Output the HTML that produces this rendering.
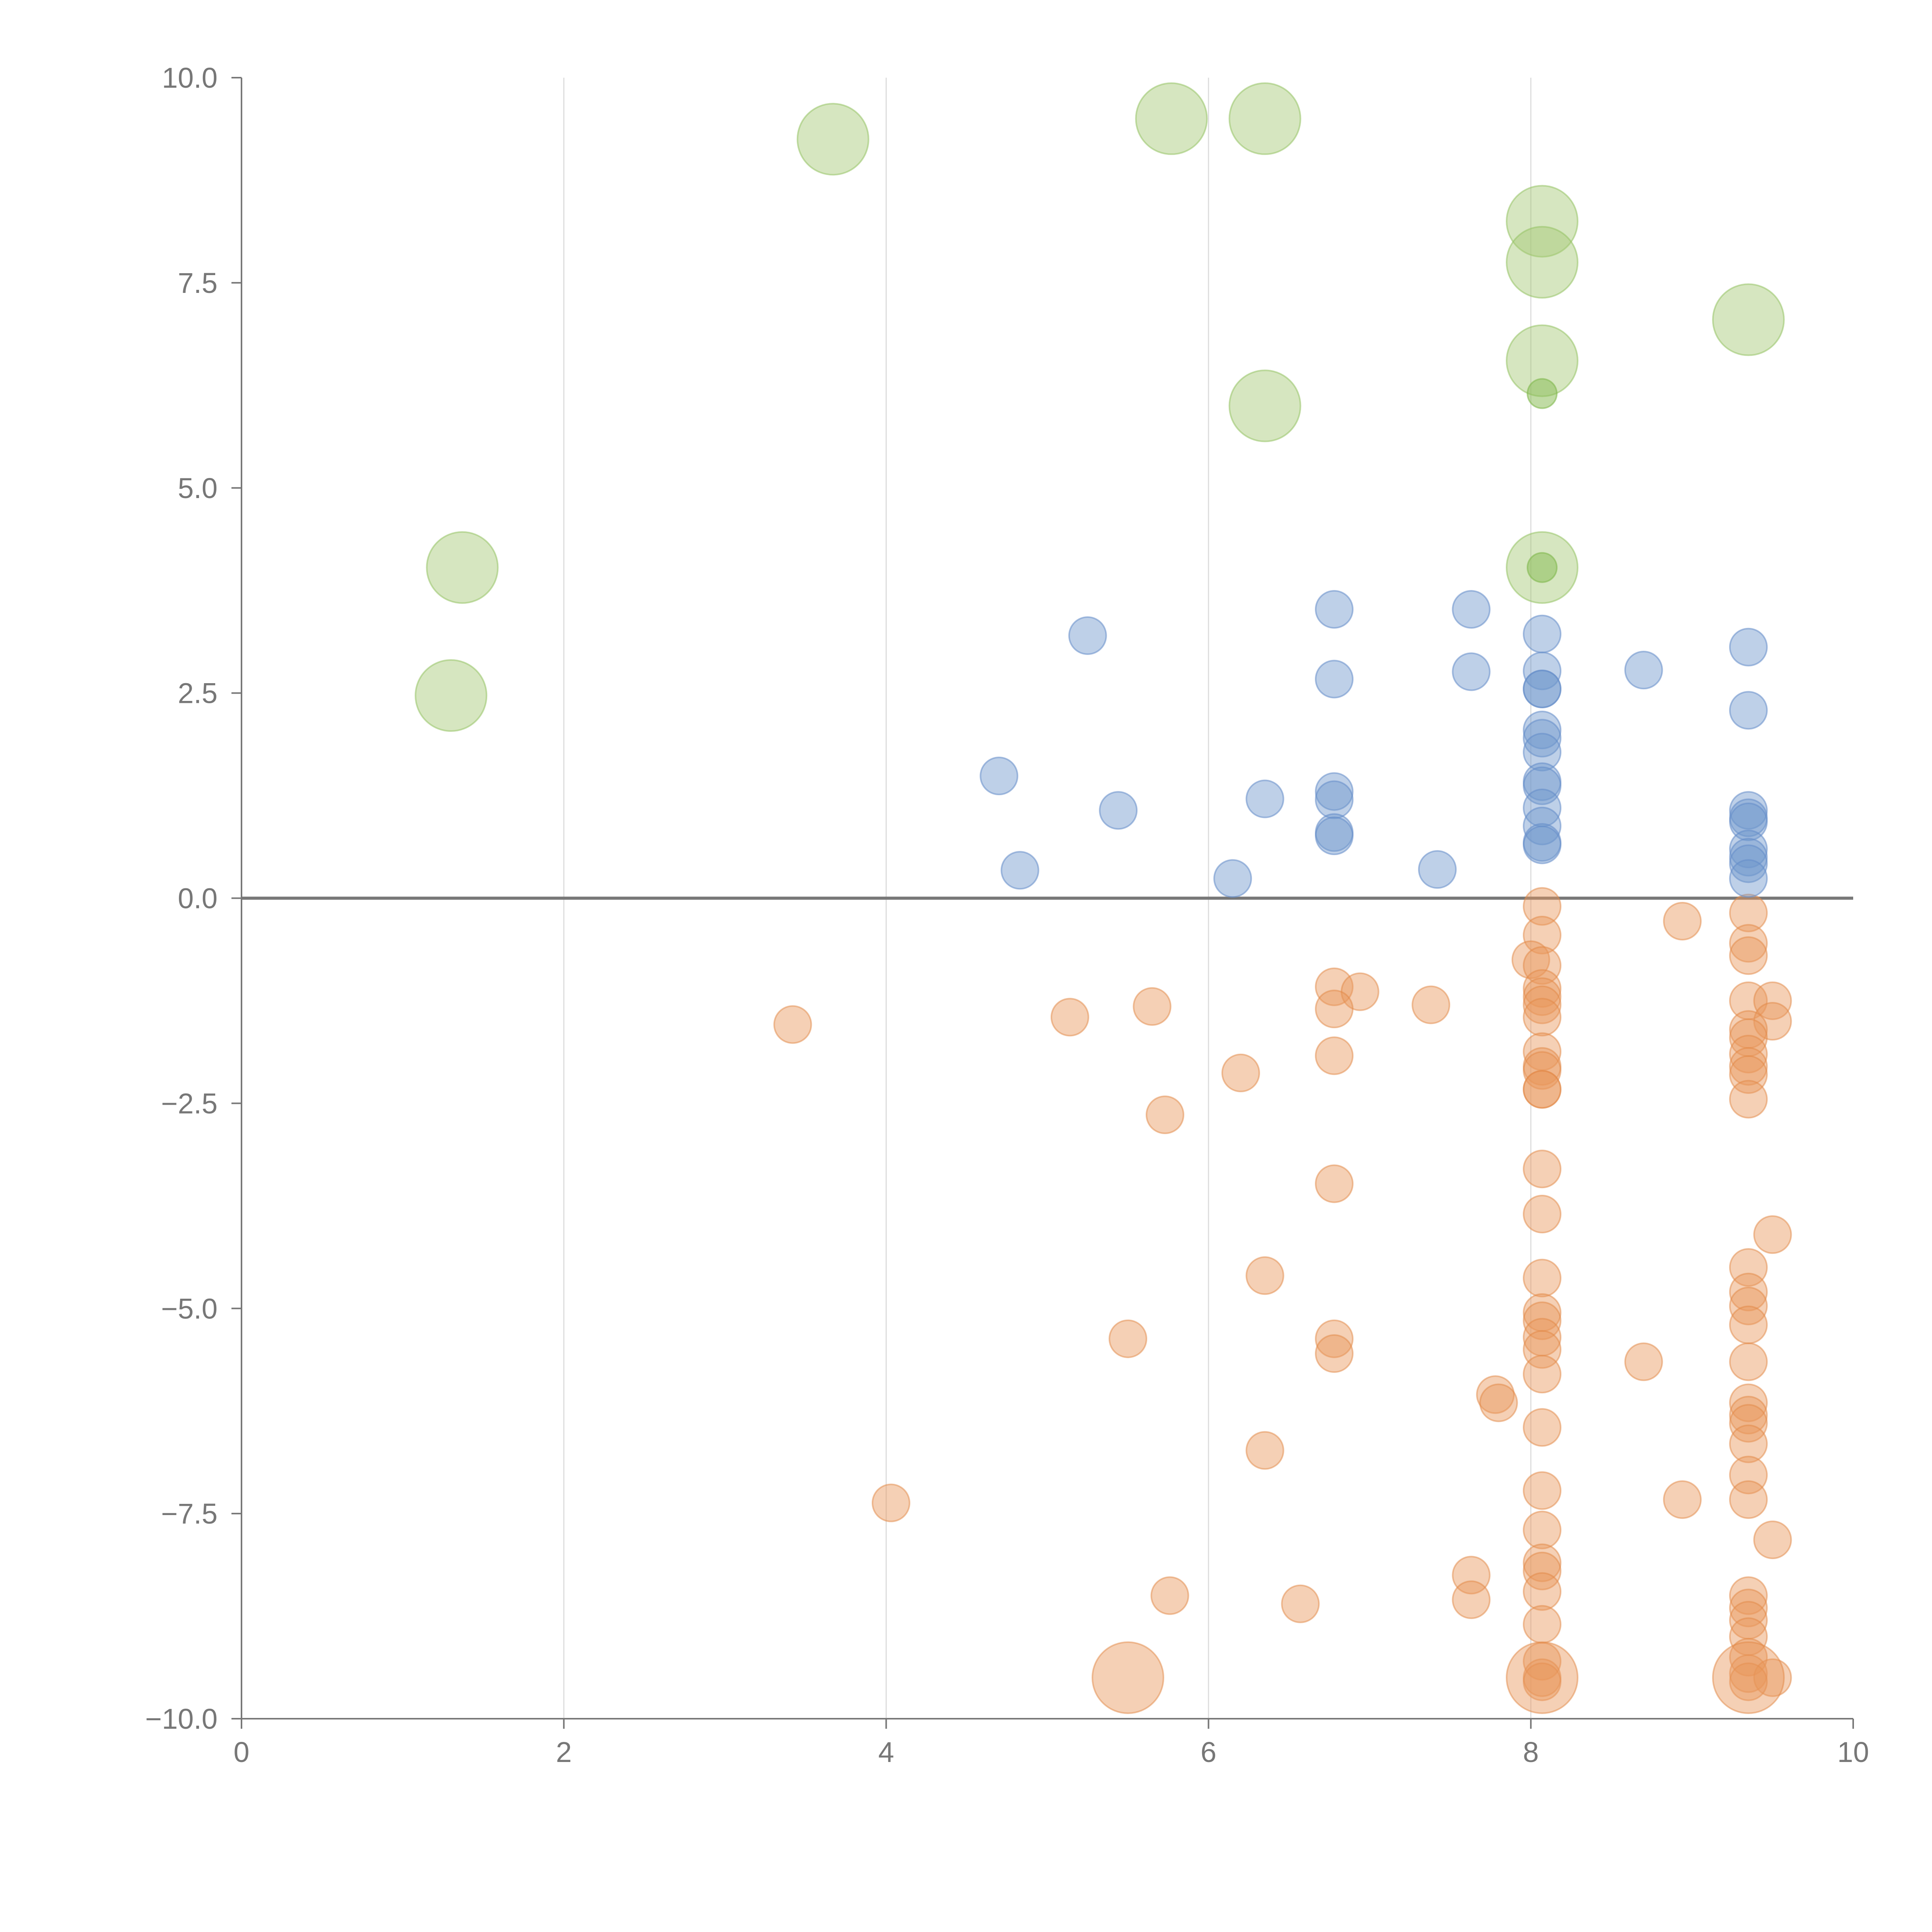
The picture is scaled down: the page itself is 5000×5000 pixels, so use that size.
<!DOCTYPE html>
<html><head><meta charset="utf-8"><style>
html,body{margin:0;padding:0;background:#fff;}
svg{display:block;font-family:"Liberation Sans",sans-serif;}
</style></head><body>
<svg id="chart" width="5000" height="5000" viewBox="0 0 5000 5000">
<g id="grid"></g>
<g id="axes"></g>
<g id="marks"></g>
</svg>
<script>
const xTicks=[0,2,4,6,8,10];
const yTicks=[-10,-7.5,-5,-2.5,0,2.5,5,7.5,10];
const xTickLabels=["0","2","4","6","8","10"];
const yTickLabels=["\u221210.0","\u22127.5","\u22125.0","\u22122.5","0.0","2.5","5.0","7.5","10.0"];
const greenX=[3.67,5.77,6.35,8.07,8.07,9.35,8.07,6.35,8.07,1.37,1.3];
const greenY=[9.25,9.5,9.5,8.25,7.75,7.05,6.55,6.0,4.03,4.03,2.47];
const greenSmallX=[8.07,8.07];
const greenSmallY=[6.15,4.03];
const blueX=[6.78,7.63,5.25,8.07,9.35,6.78,7.63,8.07,8.7,8.07,8.07,9.35,8.07,8.07,8.07,4.7,8.07,8.07,6.78,6.78,6.35,8.07,9.35,9.35,9.35,5.44,8.07,6.78,6.78,8.07,8.07,9.35,9.35,9.35,4.83,7.42,6.15,9.35];
const blueY=[3.52,3.52,3.2,3.22,3.06,2.67,2.76,2.77,2.78,2.55,2.55,2.29,2.05,1.95,1.78,1.49,1.42,1.37,1.3,1.2,1.21,1.1,1.07,0.98,0.93,1.07,0.88,0.8,0.76,0.68,0.65,0.6,0.5,0.42,0.34,0.35,0.24,0.24];
const orangeX=[8.07,9.35,8.94,8.07,9.35,9.35,8.0,8.07,6.78,6.94,8.07,8.07,8.07,9.35,9.5,7.38,5.65,6.78,8.07,5.14,9.5,3.42,9.35,9.35,8.07,9.35,6.78,9.35,8.07,8.07,6.2,9.35,8.07,8.07,9.35,5.73,8.07,6.78,8.07,9.5,9.35,6.35,8.07,9.35,9.35,8.07,8.07,9.35,8.07,5.5,6.78,8.07,6.78,9.35,8.7,8.07,7.78,7.8,9.35,9.35,9.35,8.07,9.35,6.35,9.35,8.07,8.94,9.35,4.03,8.07,9.5,8.07,8.07,7.63,8.07,5.76,9.35,7.63,6.57,9.35,9.35,8.07,9.35,9.35,8.07,9.35,8.07,9.5,9.35,8.07];
const orangeY=[-0.1,-0.18,-0.28,-0.45,-0.55,-0.7,-0.75,-0.82,-1.08,-1.14,-1.1,-1.2,-1.3,-1.25,-1.25,-1.3,-1.32,-1.35,-1.45,-1.45,-1.5,-1.54,-1.6,-1.7,-1.87,-1.9,-1.92,-2.05,-2.05,-2.1,-2.13,-2.15,-2.33,-2.33,-2.45,-2.64,-3.3,-3.48,-3.85,-4.1,-4.5,-4.6,-4.63,-4.8,-4.97,-5.05,-5.15,-5.2,-5.35,-5.37,-5.37,-5.5,-5.55,-5.65,-5.65,-5.8,-6.05,-6.15,-6.15,-6.3,-6.4,-6.45,-6.65,-6.73,-7.03,-7.22,-7.33,-7.33,-7.37,-7.7,-7.82,-8.1,-8.2,-8.25,-8.45,-8.5,-8.5,-8.55,-8.6,-8.65,-8.8,-8.85,-9.0,-9.25,-9.3,-9.45,-9.5,-9.5,-9.55,-9.55];
const orangeBigX=[5.5,8.07,9.35];
const orangeBigY=[-9.5,-9.5,-9.5];

const L=625,R=4796,T=201,B=4448;
const sx=v=>L+(v-0)/(10-0)*(R-L);
const sy=v=>B-(v+10)/20*(B-T);
const NS="http://www.w3.org/2000/svg";
function mk(tag,attrs,parent){const e=document.createElementNS(NS,tag);for(const k in attrs)e.setAttribute(k,attrs[k]);parent.appendChild(e);return e;}
const grid=document.getElementById('grid'),axes=document.getElementById('axes'),marks=document.getElementById('marks');

xTicks.forEach((t,i)=>{
  if(t>0&&t<10){const g=mk('line',{x1:sx(t),x2:sx(t),y1:T,y2:B,stroke:'#dddddd','stroke-width':3},grid);
    
    }
  const tk=mk('line',{x1:sx(t),x2:sx(t),y1:B,y2:B+26,stroke:'#777','stroke-width':4},axes);
  
  
  const tx=mk('text',{x:sx(t),y:B+112,'text-anchor':'middle','font-size':74,fill:'#777'},axes);
  tx.textContent=xTickLabels[i];
  
  
});
yTicks.forEach((t,i)=>{
  const tk=mk('line',{x1:L-26,x2:L,y1:sy(t),y2:sy(t),stroke:'#777','stroke-width':4},axes);
  
  
  const tx=mk('text',{x:L-62,y:sy(t)+26,'text-anchor':'end','font-size':74,fill:'#777'},axes);
  tx.textContent=yTickLabels[i];
  
  
});
const xa=mk('line',{x1:L,x2:R,y1:B,y2:B,stroke:'#777','stroke-width':4},axes);


const ya=mk('line',{x1:L,x2:L,y1:T,y2:B,stroke:'#777','stroke-width':4},axes);



function series(xs,ys,r,fill,stroke,name){
  xs.forEach((x,i)=>{
    const c=mk('circle',{cx:sx(x),cy:sy(ys[i]),r:r,fill:fill,stroke:stroke,'stroke-width':4},marks);
    
    
  });
}
series(orangeX,orangeY,48,'rgba(232,150,90,0.45)','rgba(225,135,70,0.5)','orange-point');
series(orangeBigX,orangeBigY,92,'rgba(232,150,90,0.45)','rgba(225,135,70,0.5)','orange-large-point');
series(blueX,blueY,48,'rgba(110,150,205,0.45)','rgba(100,140,200,0.55)','blue-point');
series(greenX,greenY,92,'rgba(165,200,115,0.45)','rgba(150,195,100,0.55)','green-point');
series(greenSmallX,greenSmallY,38,'rgba(140,190,90,0.55)','rgba(130,185,80,0.6)','green-small-point');

const z=mk('line',{x1:L,x2:R,y1:sy(0),y2:sy(0),stroke:'#777','stroke-width':8},axes);


</script>
</body></html>
